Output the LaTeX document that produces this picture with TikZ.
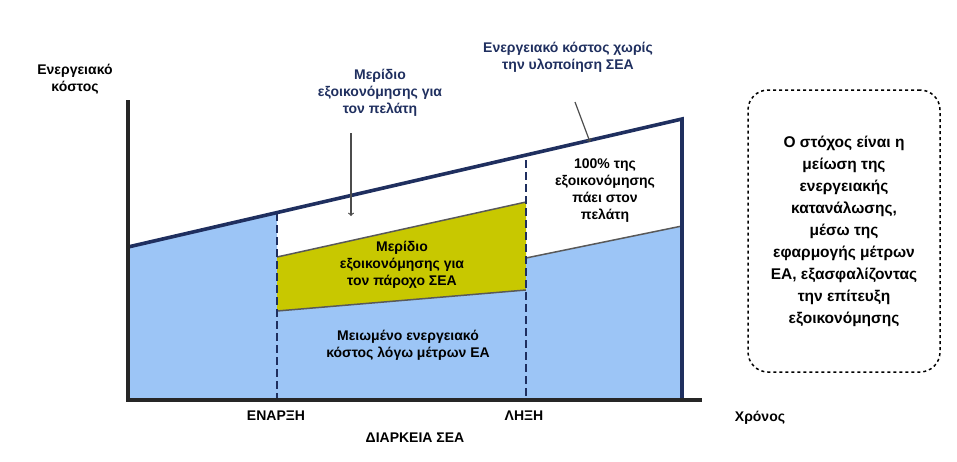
\documentclass[tikz,border=0pt]{standalone}
\usepackage{fontspec}
\setmainfont{Liberation Sans}
\begin{document}
\begin{tikzpicture}[x=1pt,y=-1pt,
  lbl/.style={font=\bfseries\fontsize{14}{17}\selectfont,align=center,inner sep=0pt},
  navytxt/.style={lbl,text=navy},
  axisl/.style={line width=3.2pt,draw=black!85},
  dashv/.style={line width=2.8pt,draw=navy,dash pattern=on 8pt off 4pt}]
\definecolor{navy}{HTML}{1F2F5F}
\definecolor{lblue}{HTML}{9CC5F6}
\definecolor{olive}{HTML}{C8C800}
\useasboundingbox (0,0) rectangle (957,461);
% fills
\fill[lblue] (128,247) -- (277,213) -- (277,400) -- (128,400) -- cycle;
\fill[lblue] (277,311) -- (526,290) -- (526,400) -- (277,400) -- cycle;
\fill[olive] (277,257) -- (526,202) -- (526,290) -- (277,311) -- cycle;
\draw[gray!70!black,line width=1.5pt] (277,311) -- (526,290);
\draw[gray!70!black,line width=1.5pt] (277,257) -- (526,202);
\fill[lblue] (526,258) -- (682,226) -- (682,400) -- (526,400) -- cycle;
\draw[gray!70!black,line width=1.5pt] (526,258) -- (682,226);
% cost line
\coordinate (c0) at (128,247);
\coordinate (c1) at (682,119);
\draw[navy,line width=3.6pt] (c0) -- (c1) -- (682,400);
% dashed
\coordinate (d1t) at (277,213); \coordinate (d1b) at (277,400);
\coordinate (d2t) at (526,160); \coordinate (d2b) at (526,400);
\draw[dashv] (d1t) -- (d1b);
\draw[dashv] (d2t) -- (d2b);
% axes
\coordinate (o) at (128,400);
\draw[axisl] (128,100) -- (o) -- (702,400);
% arrows
\coordinate (a1s) at (351,133); \coordinate (a1e) at (351,216);
\draw[gray!60!black,line width=1.2pt,->] (a1s) -- (a1e);
\coordinate (a2s) at (575,102); \coordinate (a2e) at (590,142);
\draw[gray!60!black,line width=1.2pt,->] (a2s) -- (a2e);
% texts
\node[lbl] (yl) at (75,79) {Ενεργειακό\\κόστος};
\node[navytxt] (t1) at (380,93) {Μερίδιο\\εξοικονόμησης για\\τον πελάτη};
\node[navytxt] (t2) at (568,57) {Ενεργειακό κόστος χωρίς\\την υλοποίηση ΣΕΑ};
\node[lbl] (t3) at (605,191) {100\% της\\εξοικονόμησης\\πάει στον\\πελάτη};
\node[lbl] (t4) at (402,265) {Μερίδιο\\εξοικονόμησης για\\τον πάροχο ΣΕΑ};
\node[lbl] (t5) at (408,345) {Μειωμένο ενεργειακό\\κόστος λόγω μέτρων ΕΑ};
\node[lbl] (s) at (276,416) {ΕΝΑΡΞΗ};
\node[lbl] (e) at (524,416) {ΛΗΞΗ};
\node[lbl] (x) at (760,418) {Χρόνος};
\node[lbl] (d) at (415,438) {ΔΙΑΡΚΕΙΑ ΣΕΑ};
\node[lbl,draw,dashed,line width=1.5pt,rounded corners=20pt,minimum width=192pt,minimum height=282pt,font=\bfseries\fontsize{15.5}{22}\selectfont] (box) at (844,231)
 {Ο στόχος είναι η\\μείωση της\\ενεργειακής\\κατανάλωσης,\\μέσω της\\εφαρμογής μέτρων\\ΕΑ, εξασφαλίζοντας\\την επίτευξη\\εξοικονόμησης};
\end{tikzpicture}
\end{document}
